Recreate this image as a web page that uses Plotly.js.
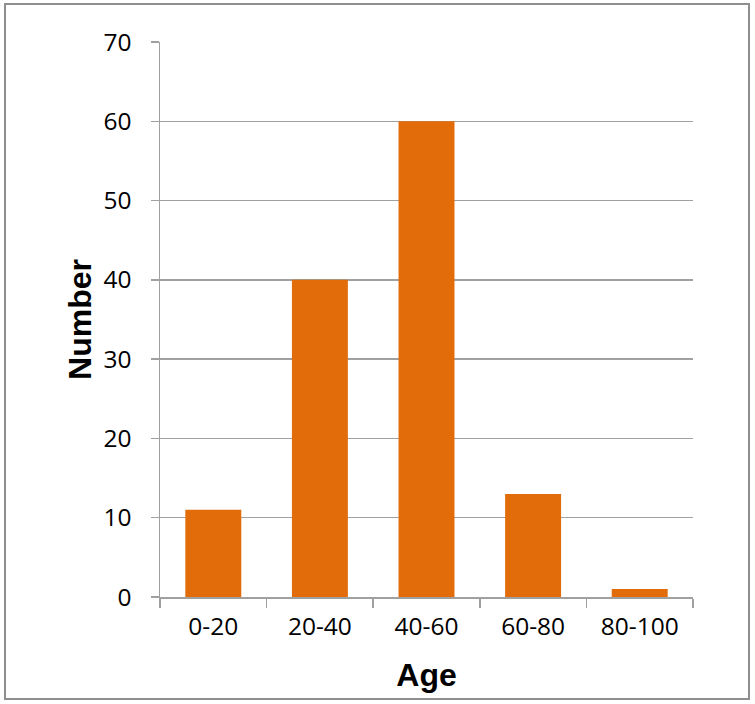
<!DOCTYPE html>
<html>
<head>
<meta charset="utf-8">
<script src="https://cdn.plot.ly/plotly-3.0.1.min.js"></script>
<style>
  html, body { margin: 0; padding: 0; background: #fff; }
  #wrap { position: relative; width: 755px; height: 704px; }
  #chart { position: absolute; left: 0; top: 0; width: 755px; height: 704px; }
  #frame { position: absolute; left: 4px; top: 3px; width: 746px; height: 697px;
           box-sizing: border-box; border: 2px solid #8f8f8f; pointer-events: none; }
</style>
</head>
<body>
<div id="wrap">
  <div id="chart"></div>
  <div id="frame"></div>
</div>
<script>
const categories = ["0-20", "20-40", "40-60", "60-80", "80-100"];
const counts = [11, 40, 60, 13, 1];
const yTicks = [0, 10, 20, 30, 40, 50, 60, 70];
const xTitle = "Age";
const yTitle = "Number";

const gridCol = "#a0a0a0";
const tickFont = { family: "Open Sans, Liberation Sans, sans-serif", size: 24.5, color: "#000" };
const titleFont = { family: "Liberation Sans, Arial, sans-serif", size: 32, color: "#000", weight: "bold" };

const data = [{
  type: "bar",
  x: categories,
  y: counts,
  marker: { color: "#E36C0A", line: { width: 0 } },
  hoverinfo: "x+y"
}];

const layout = {
  width: 755, height: 704,
  margin: { l: 160, r: 62, t: 42, b: 107, pad: 0 },
  paper_bgcolor: "#fff",
  plot_bgcolor: "#fff",
  showlegend: false,
  bargap: 0.475,
  xaxis: {
    type: "category",
    categoryorder: "array",
    categoryarray: categories,
    showline: true, linecolor: gridCol, linewidth: 1.5,
    ticks: "outside", tickson: "boundaries", ticklen: 9, tickcolor: gridCol, tickwidth: 1.5,
    showgrid: false, zeroline: false,
    tickfont: tickFont,
    ticklabelstandoff: 7,
    title: { text: xTitle, font: titleFont, standoff: 22 },
    automargin: false
  },
  yaxis: {
    range: [0, 70],
    tickvals: yTicks,
    ticktext: yTicks.map(String),
    showline: true, linecolor: gridCol, linewidth: 1.5,
    ticks: "outside", ticklen: 8, tickcolor: gridCol, tickwidth: 1.5,
    showgrid: true, gridcolor: gridCol, gridwidth: 1.5,
    zeroline: false,
    tickfont: tickFont,
    ticklabelstandoff: 14,
    title: { text: yTitle, font: titleFont, standoff: 2 },
    automargin: false
  }
};

Plotly.newPlot("chart", data, layout, { displayModeBar: false, staticPlot: true });
</script>
</body>
</html>
